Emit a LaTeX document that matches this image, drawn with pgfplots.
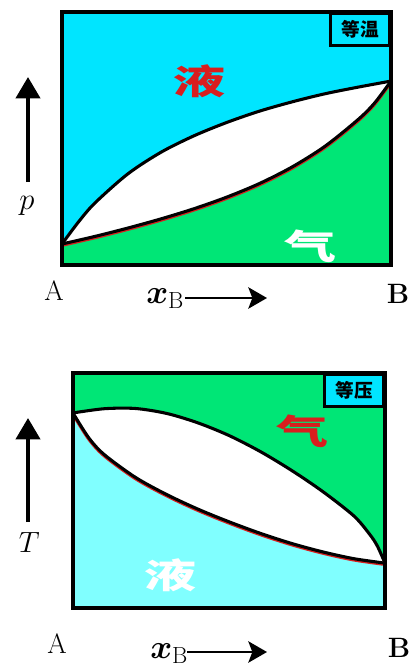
\RequirePackage{fix-cm}
\documentclass[border=0pt]{standalone}
\usepackage{pgfplots}
\pgfplotsset{compat=1.18}
\usepackage{fontspec}
\usepackage{bm}
\usetikzlibrary{arrows.meta}
\newfontfamily\cjk{Noto Sans CJK SC}

\definecolor{liqcyan}{HTML}{00E5FF}
\definecolor{vapgreen}{HTML}{00E676}
\definecolor{liqlight}{HTML}{80FFFF}
\definecolor{labelred}{HTML}{D81E1E}

% isothermal diagram: liquid and vapour lines
\pgfplotstableread{
x     p
0     8.3
0.05  17.0
0.1   24.5
0.2   36.0
0.3   44.5
0.4   51.0
0.5   56.3
0.6   60.8
0.7   64.5
0.8   67.7
0.9   70.3
1     72.7
}\liqline
\pgfplotstableread{
x     p
0     8.3
0.1   11.3
0.2   14.6
0.3   18.2
0.4   22.2
0.5   26.8
0.6   32.2
0.7   38.8
0.8   47.0
0.9   57.5
0.95  64.0
1     72.7
}\vapline
% isobaric diagram: dew and bubble lines
\pgfplotstableread{
x     T
0     83.0
0.1   84.8
0.2   84.9
0.3   82.8
0.4   78.8
0.5   73.4
0.6   66.6
0.7   58.6
0.8   49.6
0.9   39.2
0.95  31.5
0.975 26.5
1     19.1
}\dewline
\pgfplotstableread{
x     T
0     83.0
0.05  72.5
0.1   65.3
0.2   55.6
0.3   48.3
0.4   42.1
0.5   36.7
0.6   31.8
0.7   27.5
0.8   23.9
0.9   21.0
1     19.1
}\bubline

\pgfplotsset{
  phase/.style={
    scale only axis, xmin=0, xmax=1, ymin=0, ymax=100,
    ticks=none, axis on top, clip=true,
    axis line style={line width=3pt},
  },
  curve/.style={smooth, draw=black, line width=2.3pt},
  fringe/.style={smooth, draw=labelred, line width=2.3pt, yshift=-1pt},
}
\tikzset{
  boxlabel/.style={draw=black, line width=2.2pt, fill=liqcyan, anchor=north east,
    minimum width=44pt, minimum height=24pt, inner sep=0pt,
    font=\cjk\bfseries\fontsize{14}{14}\selectfont},
  biglabel/.style={font=\cjk\bfseries\fontsize{26}{26}\selectfont, xscale=1.5},
}

\begin{document}
\begin{tikzpicture}
\useasboundingbox (0,0) rectangle (308.25pt,-500.25pt);

% ---------- isothermal p-x diagram ----------
\begin{axis}[phase, at={(46.5pt,-198.75pt)}, anchor=south west,
  width=246.75pt, height=189.75pt,
  axis background/.style={fill=liqcyan}]
  \addplot[smooth, fill=white, draw=none] table {\liqline} \closedcycle;
  \addplot[smooth, fill=vapgreen, draw=none] table {\vapline} \closedcycle;
  \addplot[fringe] table {\vapline};
  \addplot[curve] table {\liqline};
  \addplot[curve] table {\vapline};
  \node[biglabel, text=labelred] at (axis cs:0.419,72.7) {液};
  \node[biglabel, text=white] at (axis cs:0.754,7.5) {气};
  \node[boxlabel] at (rel axis cs:1,1) {等温};
\end{axis}

\draw[line width=3pt, -{Triangle[length=16pt, width=18pt]}] (21pt,-136.5pt) -- (21pt,-57.75pt);
\node at (20.25pt,-154.5pt) {\fontsize{23}{23}\selectfont$p$};
\node[anchor=base] at (40.5pt,-225pt) {\fontsize{21}{21}\selectfont A};
\node[anchor=base west, inner sep=0pt] at (109.5pt,-227.25pt)
  {\fontsize{25}{25}\selectfont$\bm{x}_{\mathrm{B}}$};
\draw[line width=1.8pt, -{Stealth[length=14pt, width=16pt, inset=3pt]}] (138.75pt,-223.5pt) -- (200.25pt,-223.5pt);
\node[anchor=base] at (298.5pt,-227.25pt) {\fontsize{21}{21}\selectfont\bfseries B};

% ---------- isobaric T-x diagram ----------
\begin{axis}[phase, at={(54.75pt,-456pt)}, anchor=south west,
  width=234pt, height=176.25pt,
  axis background/.style={fill=vapgreen}]
  \addplot[smooth, fill=white, draw=none] table {\dewline} \closedcycle;
  \addplot[smooth, fill=liqlight, draw=none] table {\bubline} \closedcycle;
  \addplot[fringe] table {\bubline};
  \addplot[curve] table {\dewline};
  \addplot[curve] table {\bubline};
  \node[biglabel, text=labelred] at (axis cs:0.734,75.3) {气};
  \node[biglabel, text=white] at (axis cs:0.314,14.0) {液};
  \node[boxlabel] at (rel axis cs:1,1) {等压};
\end{axis}

\draw[line width=3pt, -{Triangle[length=16pt, width=18pt]}] (21pt,-391.5pt) -- (21pt,-313.5pt);
\node at (22pt,-406.5pt) {\fontsize{22}{22}\selectfont$T$};
\node[anchor=base] at (42.75pt,-489.75pt) {\fontsize{21}{21}\selectfont A};
\node[anchor=base west, inner sep=0pt] at (112.5pt,-493.5pt)
  {\fontsize{25}{25}\selectfont$\bm{x}_{\mathrm{B}}$};
\draw[line width=1.8pt, -{Stealth[length=14pt, width=16pt, inset=3pt]}] (140.25pt,-489pt) -- (200.25pt,-489pt);
\node[anchor=base] at (299.25pt,-492.75pt) {\fontsize{21}{21}\selectfont\bfseries B};
\end{tikzpicture}
\end{document}
